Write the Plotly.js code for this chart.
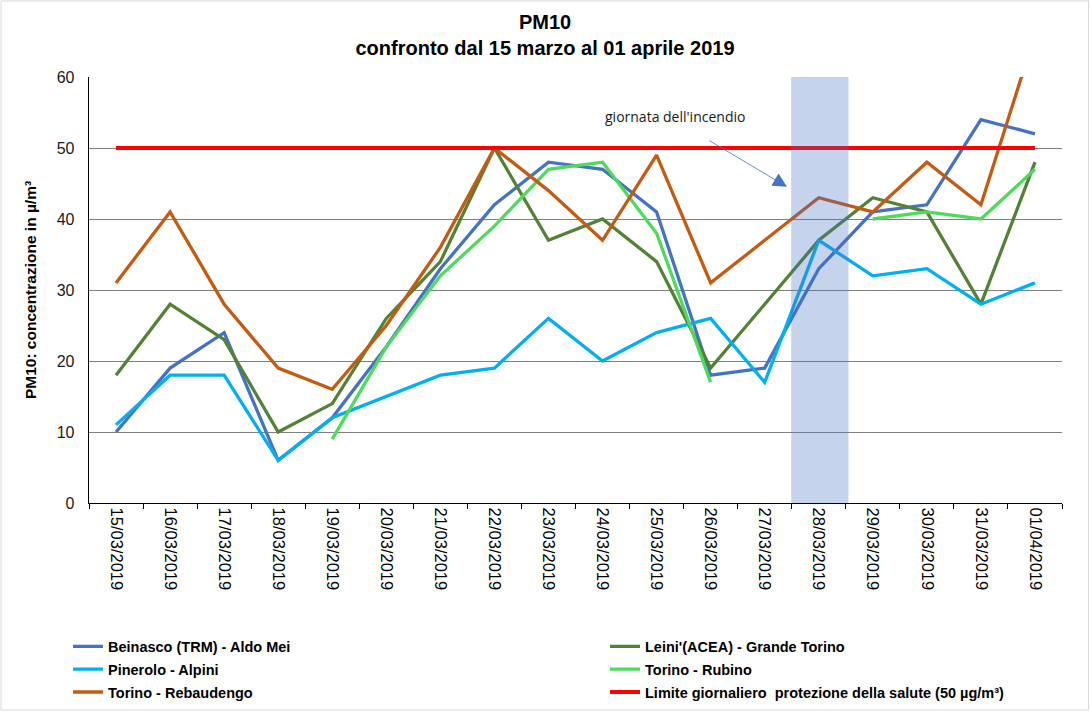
<!DOCTYPE html>
<html>
<head>
<meta charset="utf-8">
<script src="https://cdn.plot.ly/plotly-3.0.1.min.js"></script>
<style>
  html, body { margin: 0; padding: 0; background: #ffffff; }
  #chart { width: 1090px; height: 712px; }
</style>
</head>
<body>
<div id="chart"></div>
<script>
// ---- data ----
var dates = ["15/03/2019","16/03/2019","17/03/2019","18/03/2019","19/03/2019","20/03/2019",
             "21/03/2019","22/03/2019","23/03/2019","24/03/2019","25/03/2019","26/03/2019",
             "27/03/2019","28/03/2019","29/03/2019","30/03/2019","31/03/2019","01/04/2019"];

var beinasco   = [10, 19, 24, 6, 12, 22, 33, 42, 48, 47, 41, 18, 19, 33, 41, 42, 54, 52];
var leini      = [18, 28, 23, 10, 14, 26, 34, 50, 37, 40, 34, 19, 28, 37, 43, 41, 28, 48];
var pinerolo   = [11, 18, 18, 6, 12, 15, 18, 19, 26, 20, 24, 26, 17, 37, 32, 33, 28, 31];
var rubino     = [null, null, null, null, 9, 22, 32, 39, 47, 48, 38, 17, null, null, 40, 41, 40, 47];
var rebaudengo = [31, 41, 28, 19, 16, 25, 36, 50, 44, 37, 49, 31, 37, 43, 41, 48, 42, 66];
var limite     = [50, 50, 50, 50, 50, 50, 50, 50, 50, 50, 50, 50, 50, 50, 50, 50, 50, 50];

var seriesNames = [
  "Beinasco (TRM) - Aldo Mei",
  "Leini'(ACEA) - Grande Torino",
  "Pinerolo - Alpini",
  "Torino - Rubino",
  "Torino - Rebaudengo",
  "Limite giornaliero  protezione della salute (50 µg/m³)"
];

var fireDay = "28/03/2019";
var fireLabel = "giornata dell'incendio";

// ---- chart ----
var FONT = "Liberation Sans, Arial, sans-serif";
// plot area in pixels (for converting paper positions)
var PL = 89, PR = 1062, PT = 77, PB = 502.7;
var PW = PR - PL, PH = PB - PT;
function px(xp) { return (xp - PL) / PW; }
function py(yp) { return (PB - yp) / PH; }

function line(name, y, color, width, legendId, group) {
  return {
    type: "scatter", mode: "lines", name: name, x: dates, y: y,
    line: {color: color, width: width},
    connectgaps: false,
    legend: legendId, legendgroup: group,
    hoverinfo: "skip"
  };
}

var traces = [
  line(seriesNames[0], beinasco,   "#4472C4", 3.3, "legend",  "g1"),
  line(seriesNames[1], leini,      "#548235", 3.3, "legend2", "g2"),
  line(seriesNames[2], pinerolo,   "#00B0F0", 3.3, "legend",  "g3"),
  line(seriesNames[3], rubino,     "#4EDB5B", 3.3, "legend2", "g4"),
  line(seriesNames[4], rebaudengo, "#C55A11", 3.3, "legend",  "g5"),
  line(seriesNames[5], limite,     "#FF0000", 3.8, "legend2", "g6")
];

var fireIdx = dates.indexOf(fireDay);

var legendCommon = {
  orientation: "v",
  xref: "paper", yref: "paper",
  xanchor: "left", yanchor: "top",
  bgcolor: "rgba(0,0,0,0)",
  borderwidth: 0,
  tracegroupgap: 1,
  font: {family: FONT, size: 14.5, color: "#000000", weight: "bold"}
};

var layout = {
  width: 1090, height: 712,
  paper_bgcolor: "#ffffff", plot_bgcolor: "#ffffff",
  margin: {l: PL, r: 1090 - PR, t: PT, b: 712 - PB, autoexpand: false},
  font: {family: FONT, color: "#000000"},
  title: {
    text: "<b>PM10</b><br><b>confronto dal 15 marzo al 01 aprile 2019</b>",
    xref: "container", x: 0.5, xanchor: "center",
    yref: "container", y: 1 - 29 / 712, yanchor: "middle",
    font: {family: FONT, size: 20, color: "#000000"}
  },
  showlegend: true,
  legend: Object.assign({}, legendCommon, {x: px(68), y: py(630)}),
  legend2: Object.assign({}, legendCommon, {x: px(605), y: py(630)}),
  xaxis: {
    type: "category",
    range: [-0.5, dates.length - 0.5],
    tickson: "boundaries",
    ticks: "outside", ticklen: 5, tickcolor: "#000000", tickwidth: 1,
    tickangle: 90,
    tickfont: {family: FONT, size: 16.5, color: "#000000"},
    showline: true, linecolor: "#000000", linewidth: 1.3,
    showgrid: false, zeroline: false,
    automargin: false,
    fixedrange: true
  },
  yaxis: {
    range: [0, 60], dtick: 10, tick0: 0,
    tickfont: {family: FONT, size: 16, color: "#1a1a1a"},
    ticks: "", ticklabelstandoff: 10,
    showline: true, linecolor: "#000000", linewidth: 1.3,
    showgrid: true, gridcolor: "#808080", gridwidth: 1,
    zeroline: false,
    automargin: false,
    title: {
      text: "<b>PM10: concentrazione in µ/m³</b>",
      font: {family: FONT, size: 15.5, color: "#000000"},
      standoff: 16
    },
    fixedrange: true
  },
  shapes: [
    {
      type: "rect", layer: "above",
      xref: "x", yref: "paper",
      x0: fireIdx - 0.51, x1: fireIdx + 0.55, y0: 0, y1: 1,
      fillcolor: "rgba(68,114,196,0.31)", line: {width: 0}
    },
    {
      type: "rect", layer: "below",
      xref: "paper", yref: "paper",
      x0: px(1), x1: px(1088.5),
      y0: py(709.5), y1: py(1),
      fillcolor: "rgba(0,0,0,0)", line: {color: "#d9d9d9", width: 1}
    }
  ],
  annotations: [
    {
      text: fireLabel,
      xref: "paper", yref: "paper",
      x: px(675), y: py(116),
      xanchor: "center", yanchor: "middle",
      showarrow: false,
      font: {family: "Open Sans, Noto Sans, sans-serif", size: 14, color: "#1a1a1a"}
    },
    {
      text: "",
      xref: "x", yref: "y",
      x: (787 - 116) / 54.06, y: (PB - 187) / 7.088,
      axref: "pixel", ayref: "pixel",
      ax: -79, ay: -47,
      showarrow: true, arrowhead: 2, arrowsize: 3.5, arrowwidth: 0.8,
      arrowcolor: "#4472C4", standoff: 0
    }
  ]
};

Plotly.newPlot("chart", traces, layout, {staticPlot: true, displayModeBar: false});
</script>
</body>
</html>
